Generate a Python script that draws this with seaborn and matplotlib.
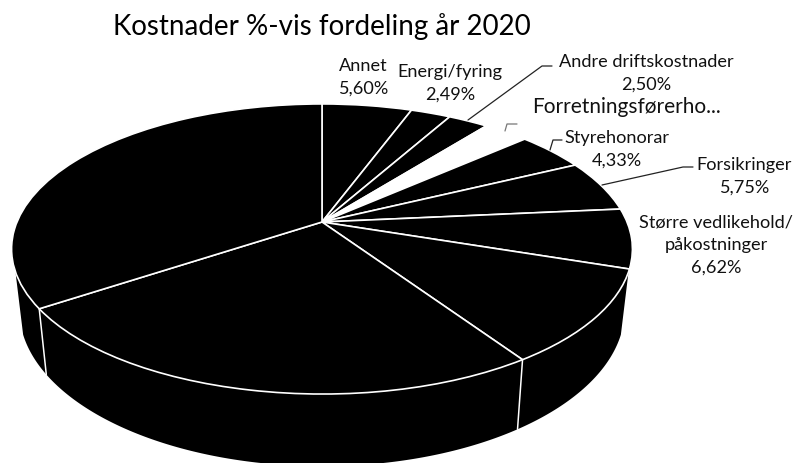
import numpy as np
import seaborn as sns
from matplotlib import pyplot as plt
from matplotlib.transforms import Transform

# verdier lest av bildet, de uten etikett er anslag
kategorier = ["Annet", "Energi/fyring", "Andre driftskostnader", "Forretningsførerho...",
              "Styrehonorar", "Forsikringer", "Større vedlikehold/\npåkostninger",
              "Ukjent 1", "Ukjent 2", "Ukjent 3"]
andeler = [5.60, 2.49, 2.50, 2.83, 4.33, 5.75, 6.62, 10.50, 25.00, 34.38]
farger = ["black", "black", "black", "white", "black", "black", "black", "black", "black", "black"]
tittel = "Kostnader %-vis fordeling år 2020"
etiketter = ["Annet\n5,60%", "Energi/fyring\n2,49%", "Andre driftskostnader\n2,50%",
             "Forretningsførerho...", "Styrehonorar\n4,33%", "Forsikringer\n5,75%",
             "Større vedlikehold/\npåkostninger\n6,62%"]
etikett_pos = [(363, 77), (450, 83), (646, 73), (627, 107), (617, 149), (744, 176), (716, 245)]
etikett_str = [13.1, 13.1, 13.1, 15, 13.1, 13.1, 13.1]
ledere = [[(468, 121), (542, 67), (552, 67)],
          [(505, 132), (507, 125), (517, 125)],
          [(550, 151), (553, 141), (562, 141)],
          [(602, 186), (683, 168), (693, 168)]]
leder_farge = ["#222222", "#777777", "#222222", "#222222"]


class Perspektiv(Transform):
    input_dims = 2
    output_dims = 2
    is_separable = False

    def __init__(self, sx=1.0, sy=1.0, y0=223.0):
        super().__init__()
        self.sx, self.sy, self.y0 = sx, sy, y0

    def transform_non_affine(self, values):
        values = np.asarray(values, dtype=float)
        s = 1 / (1 + 0.186 * values[:, 1])
        x = 322 + self.sx * 305 * values[:, 0] * s
        y = self.y0 - self.sy * 140 * values[:, 1] * s
        return np.column_stack([x, y])


sns.set_theme(style="white")
plt.rcParams["font.family"] = ["Lato", "DejaVu Sans"]

fig, ax = plt.subplots(figsize=(7.95, 4.64), dpi=100)
fig.subplots_adjust(0, 0, 1, 1)

topp = Perspektiv()
bunn = Perspektiv(sx=0.975, sy=1.077, y0=282)

# veggen mellom topp og bunn, bare den fremre delen
ring = np.linspace(0, 2 * np.pi, 721)
ring_xy = np.column_stack([np.cos(ring), np.sin(ring)])
foran = ring_xy[ring_xy[:, 1] <= -0.33]
foran = foran[np.argsort(foran[:, 0])]
vegg = np.vstack([topp.transform_non_affine(foran), bunn.transform_non_affine(foran)[::-1]])
ax.fill(vegg[:, 0], vegg[:, 1], color="black", lw=0, zorder=1)

# skillelinjer i veggen
grader = 90 - 3.6 * np.cumsum(andeler)
for g in grader[7:9]:
    p = np.array([[np.cos(np.radians(g)), np.sin(np.radians(g))]])
    a = topp.transform_non_affine(p)[0]
    b = bunn.transform_non_affine(p)[0]
    ax.plot([a[0], b[0]], [a[1], b[1]], color="white", lw=1.1, zorder=2)

# toppskiva
wedges, _ = ax.pie(andeler, colors=farger, startangle=90, counterclock=False,
                   wedgeprops={"edgecolor": "white", "lw": 1.2})
for w in wedges:
    w.set_transform(topp + ax.transData)
    w.set_zorder(3)

ax.set_aspect("auto")
ax.set_xlim(0, 795)
ax.set_ylim(464, 0)
ax.axis("off")

for tekst, (x, y), str_ in zip(etiketter, etikett_pos, etikett_str):
    ax.text(x, y, tekst, ha="center", va="center", fontsize=str_, color="#111111",
            linespacing=1.5, zorder=5)
for punkter, farge in zip(ledere, leder_farge):
    xs, ys = zip(*punkter)
    ax.plot(xs, ys, color=farge, lw=0.9, zorder=4)

ax.text(113, 27, tittel, ha="left", va="center", fontsize=20, color="black")

fig.savefig("out.png", dpi=100)
plt.close()
